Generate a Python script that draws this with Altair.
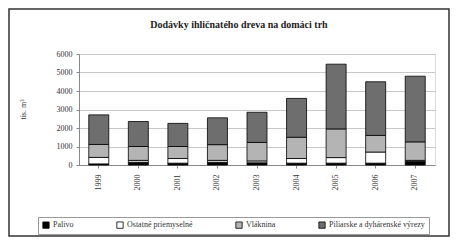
import altair as alt
import pandas as pd

years = ["1999", "2000", "2001", "2002", "2003", "2004", "2005", "2006", "2007"]
series = ["Palivo", "Ostatné priemyselné", "Vláknina", "Piliarske a dyhárenské výrezy"]
palivo = [60, 150, 100, 150, 120, 100, 100, 100, 200]
ostatne = [350, 100, 250, 100, 100, 250, 300, 600, 50]
vlaknina = [700, 750, 650, 850, 1000, 1150, 1550, 900, 1000]
piliarske = [1600, 1350, 1250, 1450, 1630, 2100, 3500, 2900, 3550]
colors = ["#000000", "#ffffff", "#b4b4b4", "#6e6e6e"]
title_text = "Dodávky ihličnatého dreva na domáci trh"

rows = []
for i, y in enumerate(years):
    for k, (s, vals) in enumerate(zip(series, [palivo, ostatne, vlaknina, piliarske])):
        rows.append({"rok": y, "sortiment": s, "hodnota": vals[i], "poradie": k})
df = pd.DataFrame(rows)

FONT = "Liberation Serif"

bars = alt.Chart(df).mark_bar(stroke="#000000", strokeWidth=0.8, size=20).encode(
    x=alt.X("rok:N", sort=years, title=None,
            axis=alt.Axis(labelAngle=270, labelFont=FONT, labelFontSize=8, labelColor="#333",
                          labelPadding=6, tickSize=3, tickColor="#888", domainColor="#888",
                          labelAlign="right", labelBaseline="middle")),
    y=alt.Y("hodnota:Q", stack="zero", title="tis. m³",
            scale=alt.Scale(domain=[0, 6000], nice=False),
            axis=alt.Axis(values=[0, 1000, 2000, 3000, 4000, 5000, 6000], format="d",
                          labelFont=FONT, labelFontSize=8, labelColor="#333", labelPadding=4,
                          tickSize=3, tickColor="#888", domainColor="#888",
                          gridColor="#c8c8c8", titleFont=FONT, titleFontSize=8,
                          titleFontWeight="normal", titleColor="#333", titleX=-52, titleY=55,
                          titleAngle=270)),
    color=alt.Color("sortiment:N", sort=series,
                    scale=alt.Scale(domain=series, range=colors),
                    legend=alt.Legend(title=None, orient="none", direction="horizontal",
                                      legendX=-41, legendY=163, labelFont=FONT, labelFontSize=8,
                                      labelColor="#333", symbolType="square", symbolSize=40,
                                      symbolStrokeColor="#000", symbolStrokeWidth=0.8,
                                      labelOffset=3, columnPadding=41, padding=4,
                                      strokeColor="#999", labelLimit=300)),
    order=alt.Order("poradie:Q"),
)

frame = alt.Chart(pd.DataFrame({"a": [0]})).mark_rect(
    fill="transparent", stroke="#333", strokeWidth=1.5
).encode(x=alt.value(-70), x2=alt.value(370), y=alt.value(-45), y2=alt.value(182))

title = alt.Chart(pd.DataFrame({"t": [title_text]})).mark_text(
    font=FONT, fontSize=10, fontWeight="bold", color="#222", align="center", baseline="middle"
).encode(text="t:N", x=alt.value(160), y=alt.value(-29))

chart = alt.layer(frame, bars, title).properties(
    width=356, height=111,
    padding={"left": 71, "top": 46, "right": 17, "bottom": 72},
    autosize="none",
).configure_view(stroke="#999", strokeWidth=1).configure(background="#ffffff")

chart.save("out.html", embed_options={"renderer": "svg", "actions": False})
